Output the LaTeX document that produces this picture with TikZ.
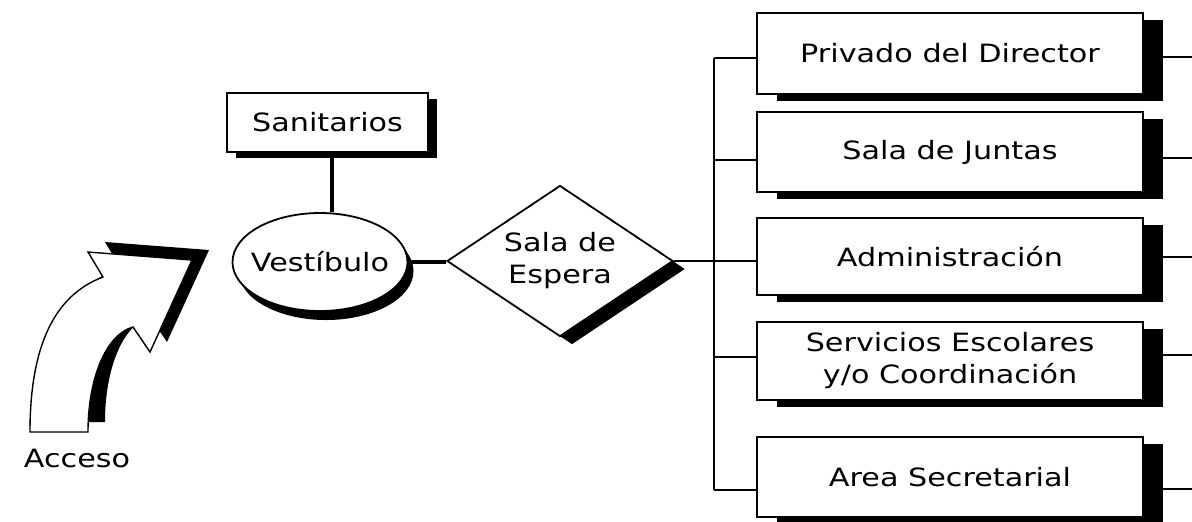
\documentclass[tikz,border=0pt]{standalone}
\usepackage{fontspec}
\setmainfont{DejaVu Sans}[FakeStretch=1.2]
\usetikzlibrary{shapes.geometric,shadows}
\tikzset{
  lbl/.style={font=\fontsize{12.6pt}{16pt}\selectfont},
  room/.style={draw, line width=0.9pt, fill=white, minimum width=193pt, inner sep=0pt,
    align=center, lbl,
    drop shadow={shadow xshift=10pt, shadow yshift=-3.5pt, fill=black, opacity=1}},
  link/.style={line width=1pt},
  heavy/.style={line width=1.6pt},
  outline/.style={draw=black, line width=0.9pt, fill=white},
}
\begin{document}
\begin{tikzpicture}[x=0.5pt,y=-0.5pt]
\useasboundingbox (0,0) rectangle (1192,521);

% entrance arrow
\fill[black, shift={(17,-10)}] (30,432) -- (88,432) .. controls (88,380) and (105,335) .. (133,327)
  -- (150,352) -- (192,260) -- (88,252) -- (103,277) .. controls (55,295) and (30,345) .. cycle;
\filldraw[fill=white, draw=black, line width=0.7pt] (30,432) -- (88,432) .. controls (88,380) and (105,335) .. (133,327)
  -- (150,352) -- (192,260) -- (88,252) -- (103,277) .. controls (55,295) and (30,345) .. cycle;
\node[lbl] (acc) at (77,458) {Acceso};

% left part
\node[outline, minimum width=100.5pt, minimum height=29.5pt, inner sep=0pt, lbl,
  drop shadow={shadow xshift=4.5pt, shadow yshift=-3pt, fill=black, opacity=1}]
  (san) at (327.5,122.5) {Sanitarios};
\node[ellipse, outline, minimum width=87.5pt, minimum height=49pt, inner sep=0pt,
  drop shadow={shadow xshift=3pt, shadow yshift=-4.5pt, fill=black, opacity=1},
  label={[lbl]center:Vestíbulo}] (ves) at (320,262) {};
\node[diamond, outline, minimum width=113pt, minimum height=75.5pt, inner sep=0pt,
  drop shadow={shadow xshift=6pt, shadow yshift=-4pt, fill=black, opacity=1},
  label={[lbl, align=center]center:Sala de\\Espera}] (sala) at (560,261) {};

% rooms
\node[room, minimum height=40.5pt] (p1) at (950,53.5) {Privado del Director};
\node[room, minimum height=40pt]   (p2) at (950,152) {Sala de Juntas};
\node[room, minimum height=38.5pt] (p3) at (950,256.5) {Administración};
\node[room, minimum height=39pt]   (p4) at (950,361) {Servicios Escolares\\y/o Coordinación};
\node[room, minimum height=40pt]   (p5) at (950,477) {Area Secretarial};

% connectors
\draw[heavy] ([xshift=2.25pt]san.south) -- ([xshift=2.25pt]san.south |- ves.north);
\draw[heavy] (ves.east) -- (ves.east -| sala.west);
\draw[link] (sala.east) -- (sala.east -| p3.west);

\coordinate (l1) at (714,58);
\coordinate (l2) at (714,160);
\coordinate (l4) at (714,357);
\coordinate (l5) at (714,490);
\draw[link] (l1) -- (l5);
\draw[link] (l1) -- (l1 -| p1.west);
\draw[link] (l2) -- (l2 -| p2.west);
\draw[link] (l4) -- (l4 -| p4.west);
\draw[link] (l5) -- (l5 -| p5.west);

\coordinate (r1) at (1192,57);
\coordinate (r2) at (1192,158);
\coordinate (r3) at (1192,257);
\coordinate (r4) at (1192,355);
\coordinate (r5) at (1192,489);
\draw[link] (r1) -- (r1 -| p1.east);
\draw[link] (r2) -- (r2 -| p2.east);
\draw[link] (r3) -- (r3 -| p3.east);
\draw[link] (r4) -- (r4 -| p4.east);
\draw[link] (r5) -- (r5 -| p5.east);
\end{tikzpicture}
\end{document}
